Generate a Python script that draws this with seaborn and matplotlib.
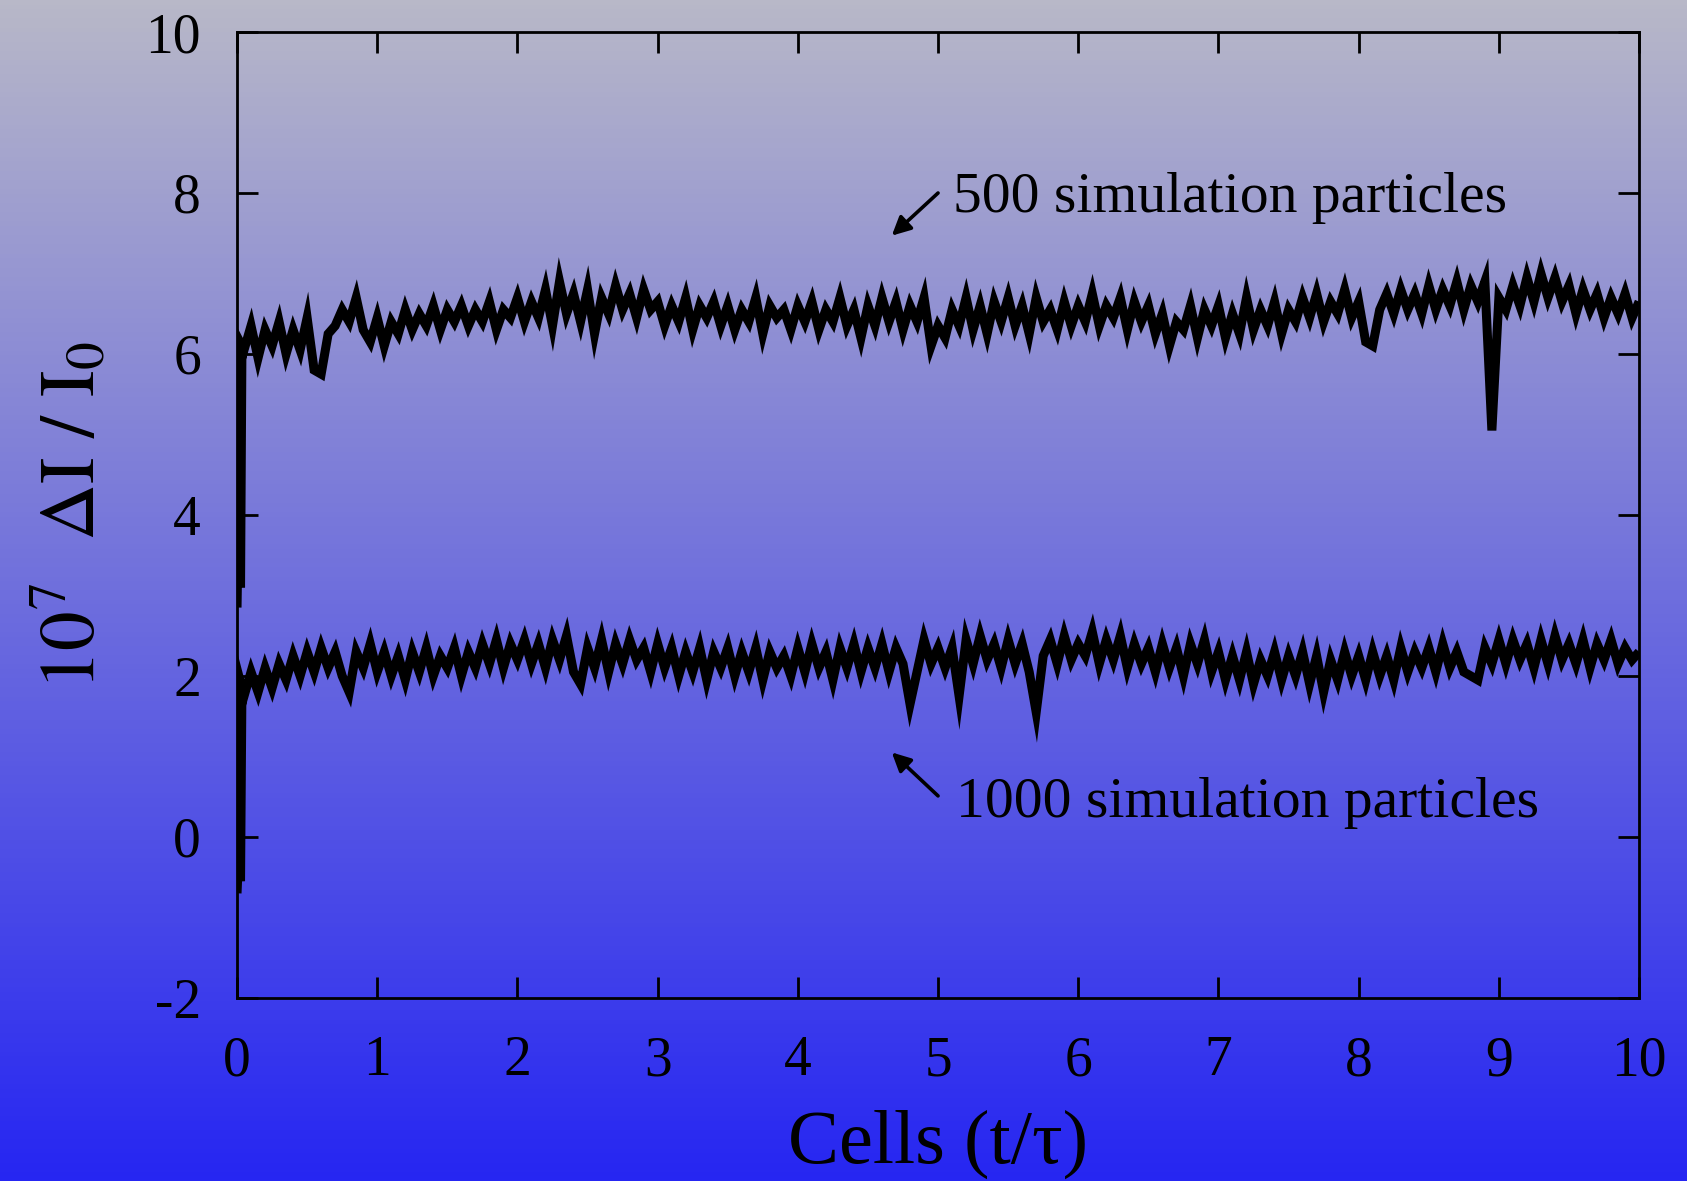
import numpy as np
import pandas as pd
import matplotlib
matplotlib.use("Agg")
import matplotlib.pyplot as plt
import seaborn as sns

# ---------------- data ----------------
t_start = [0.0, 0.012, 0.025, 0.035]
top_start = [2.85, 4.20, 3.10, 6.10]
low_start = [-0.70, -0.20, -0.55, 1.85]

t_step = 0.05
n_main = 200

top_main = [
    6.05, 6.35, 5.95, 6.30, 6.10, 6.40, 6.00, 6.30, 6.05, 6.45,
    5.80, 5.75, 6.25, 6.35, 6.55, 6.40, 6.70, 6.30, 6.15, 6.45,
    6.10, 6.40, 6.25, 6.55, 6.30, 6.50, 6.35, 6.60, 6.30, 6.55,
    6.40, 6.60, 6.35, 6.55, 6.40, 6.65, 6.30, 6.55, 6.45, 6.70,
    6.40, 6.65, 6.45, 6.80, 6.35, 6.90, 6.50, 6.75, 6.40, 6.80,
    6.25, 6.70, 6.50, 6.85, 6.55, 6.75, 6.45, 6.80, 6.55, 6.65,
    6.35, 6.60, 6.40, 6.70, 6.30, 6.60, 6.45, 6.65, 6.35, 6.60,
    6.30, 6.55, 6.40, 6.70, 6.25, 6.60, 6.45, 6.55, 6.30, 6.60,
    6.40, 6.65, 6.30, 6.55, 6.40, 6.70, 6.35, 6.55, 6.20, 6.60,
    6.35, 6.70, 6.40, 6.65, 6.30, 6.60, 6.40, 6.70, 6.10, 6.35,
    6.20, 6.55, 6.35, 6.70, 6.30, 6.60, 6.25, 6.65, 6.40, 6.70,
    6.35, 6.60, 6.25, 6.70, 6.40, 6.55, 6.30, 6.65, 6.35, 6.60,
    6.40, 6.75, 6.35, 6.60, 6.45, 6.70, 6.30, 6.65, 6.40, 6.60,
    6.25, 6.50, 6.10, 6.40, 6.30, 6.60, 6.20, 6.55, 6.35, 6.60,
    6.20, 6.50, 6.25, 6.70, 6.30, 6.55, 6.35, 6.65, 6.25, 6.55,
    6.40, 6.70, 6.45, 6.75, 6.40, 6.65, 6.50, 6.80, 6.45, 6.65,
    6.15, 6.10, 6.55, 6.75, 6.50, 6.80, 6.55, 6.75, 6.50, 6.85,
    6.55, 6.80, 6.60, 6.90, 6.55, 6.85, 6.65, 6.90, 5.05, 6.70,
    6.55, 6.85, 6.60, 6.95, 6.65, 7.00, 6.70, 6.95, 6.65, 6.85,
    6.50, 6.80, 6.55, 6.75, 6.45, 6.70, 6.50, 6.75, 6.45, 6.65,
]

low_main = [
    1.75, 2.05, 1.80, 2.10, 1.85, 2.15, 1.95, 2.25, 2.00, 2.30,
    2.05, 2.35, 2.10, 2.30, 2.00, 1.80, 2.30, 2.10, 2.40, 2.05,
    2.30, 2.00, 2.25, 1.95, 2.30, 2.05, 2.35, 2.00, 2.25, 2.10,
    2.35, 2.00, 2.30, 2.10, 2.40, 2.15, 2.45, 2.10, 2.40, 2.20,
    2.45, 2.15, 2.40, 2.10, 2.45, 2.20, 2.50, 2.05, 1.90, 2.35,
    2.10, 2.45, 2.05, 2.40, 2.15, 2.45, 2.20, 2.35, 2.05, 2.40,
    2.10, 2.35, 2.00, 2.30, 2.05, 2.35, 1.95, 2.30, 2.10, 2.35,
    2.00, 2.30, 2.05, 2.35, 1.95, 2.30, 2.10, 2.25, 2.00, 2.35,
    2.05, 2.40, 2.10, 2.30, 1.95, 2.35, 2.10, 2.40, 2.05, 2.35,
    2.10, 2.40, 2.05, 2.35, 2.15, 1.65, 2.05, 2.45, 2.15, 2.35,
    2.10, 2.35, 1.75, 2.45, 2.15, 2.50, 2.20, 2.40, 2.10, 2.45,
    2.15, 2.40, 2.05, 1.55, 2.25, 2.45, 2.15, 2.50, 2.20, 2.40,
    2.25, 2.55, 2.15, 2.45, 2.20, 2.50, 2.10, 2.40, 2.15, 2.35,
    2.05, 2.40, 2.10, 2.35, 2.00, 2.40, 2.15, 2.45, 2.05, 2.30,
    1.95, 2.25, 1.95, 2.30, 1.90, 2.20, 2.00, 2.30, 1.95, 2.25,
    2.00, 2.30, 1.90, 2.25, 1.80, 2.20, 1.95, 2.30, 2.00, 2.25,
    1.95, 2.30, 2.00, 2.25, 1.95, 2.35, 2.05, 2.30, 2.10, 2.35,
    2.05, 2.40, 2.10, 2.30, 2.05, 2.00, 1.95, 2.35, 2.15, 2.45,
    2.15, 2.45, 2.20, 2.40, 2.10, 2.45, 2.15, 2.50, 2.20, 2.40,
    2.15, 2.45, 2.10, 2.40, 2.20, 2.45, 2.15, 2.35, 2.20, 2.30,
]

x_ticks = [0, 1, 2, 3, 4, 5, 6, 7, 8, 9, 10]
y_ticks = [-2, 0, 2, 4, 6, 8, 10]
x_label = "Cells (t/\u03c4)"
y_label = r"$10^7\ \ \Delta\mathrm{I}\ /\ \mathrm{I}_0$"
label_500 = "500 simulation particles"
label_1000 = "1000 simulation particles"

bg_top = (184, 184, 200)
bg_bottom = (38, 38, 242)

# ---------------- build tables ----------------
t_main = np.round(np.arange(1, n_main + 1) * t_step, 3)
t_all = np.concatenate([t_start, t_main])
df = pd.DataFrame({
    "t": np.concatenate([t_all, t_all]),
    "val": np.concatenate([top_start + top_main, low_start + low_main]),
    "series": ["500"] * len(t_all) + ["1000"] * len(t_all),
})

# ---------------- style ----------------
sns.set_theme(style="ticks")
plt.rcParams["font.family"] = ["Liberation Serif", "DejaVu Serif"]
plt.rcParams["mathtext.fontset"] = "stix"

fig = plt.figure(figsize=(16.87, 11.81), dpi=100)

# gradient background
bg = fig.add_axes([0, 0, 1, 1], zorder=0)
frac = np.linspace(0, 1, 256)[:, None]
grad = (np.array(bg_top)[None, :] * (1 - frac) + np.array(bg_bottom)[None, :] * frac) / 255.0
bg.imshow(grad[:, None, :], aspect="auto", extent=[0, 1, 0, 1], origin="upper")
bg.set_axis_off()

ax = fig.add_axes([0.1405, 0.1550, 0.8311, 0.8179], zorder=1)
ax.patch.set_alpha(0)

for name in ["500", "1000"]:
    sub = df[df["series"] == name]
    sns.lineplot(data=sub, x="t", y="val", ax=ax, color="black",
                 linewidth=6.5, sort=False, estimator=None, legend=False)
for ln in ax.get_lines():
    ln.set_solid_joinstyle("miter")
    ln.set_solid_capstyle("butt")

ax.set_xlim(0, 10)
ax.set_ylim(-2, 10)
ax.set_xticks(x_ticks)
ax.set_yticks(y_ticks)
ax.set_xticklabels([str(v) for v in x_ticks])
ax.set_yticklabels([str(v) for v in y_ticks])

for s in ax.spines.values():
    s.set_visible(True)
    s.set_linewidth(2.0)
    s.set_color("black")

ax.tick_params(direction="in", length=15, width=2.0, top=True, right=True,
               labelsize=40, colors="black")
ax.tick_params(axis="y", pad=26)
ax.tick_params(axis="x", pad=27)

ax.set_xlabel(x_label, fontsize=55, labelpad=16, color="black")
ax.set_ylabel(y_label, fontsize=57, labelpad=24, color="black")

ax.annotate("", xy=(4.67, 7.47), xytext=(5.0, 8.0),
            arrowprops=dict(arrowstyle="-|>", lw=2.6, color="black", mutation_scale=28,
                            shrinkA=0, shrinkB=0))
ax.text(5.11, 7.77, label_500, fontsize=41.5, color="black", va="baseline", ha="left")

ax.annotate("", xy=(4.67, 1.05), xytext=(5.0, 0.51),
            arrowprops=dict(arrowstyle="-|>", lw=2.6, color="black", mutation_scale=28,
                            shrinkA=0, shrinkB=0))
ax.text(5.13, 0.25, label_1000, fontsize=41.5, color="black", va="baseline", ha="left")

fig.savefig("out.png", dpi=100)
